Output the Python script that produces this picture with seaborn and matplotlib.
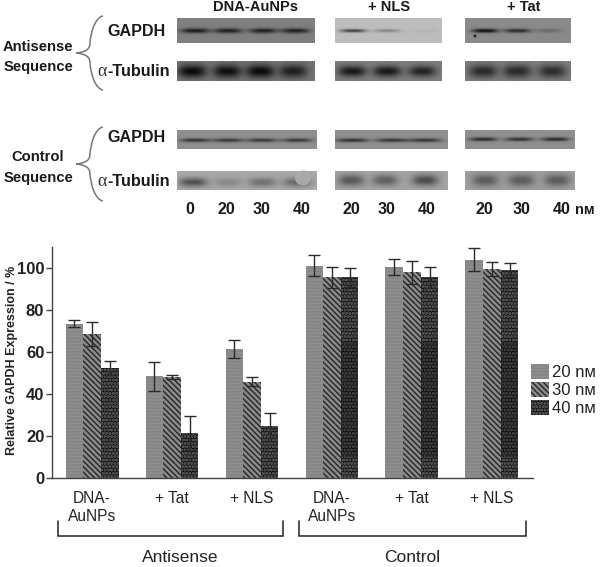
import numpy as np
import pandas as pd
import matplotlib
matplotlib.use("Agg")
import matplotlib.pyplot as plt
from matplotlib.path import Path
from matplotlib.patches import PathPatch, Patch, Ellipse
import seaborn as sns

# ---------- data ----------
groups = ["A-DNA", "A-Tat", "A-NLS", "C-DNA", "C-Tat", "C-NLS"]
group_labels = ["DNA-\nAuNPs", "+ Tat", "+ NLS", "DNA-\nAuNPs", "+ Tat", "+ NLS"]
conc = ["20 nм", "30 nм", "40 nм"]
v20 = [73.5, 48.5, 61.5, 101, 100.5, 104]
v30 = [68.5, 48, 46, 95.5, 98, 99.5]
v40 = [52.5, 21.5, 25, 95.5, 95.5, 99]
e20 = [1.6, 6.8, 4.4, 5, 4, 5.3]
e30 = [5.8, 0.9, 2, 5, 5.5, 3.3]
e40 = [3.5, 8, 6, 4.3, 5, 3.5]
yticks = [0, 20, 40, 60, 80, 100]
# darker stretch visible inside the control 40 nM bars
dark_bottom = [10, 10, 10]
dark_top = [65, 65, 65]

# blot panels: centres of the lanes and darkness of each band
dna_r1 = [195, 228, 263, 295]; nls_r1 = [353, 387, 425]; tat_r1 = [485, 517, 548]
dna_r2 = [192, 227, 260, 293]; nls_r2 = [352, 387, 422]; tat_r2 = [483, 517, 552]
dna_r3 = [195, 228, 262, 297]; nls_r3 = [352, 392, 425]; tat_r3 = [483, 519, 555]
dna_r4 = [193, 228, 262, 297]; nls_r4 = [351, 385, 425]; tat_r4 = [485, 521, 557]
d_dna_r1 = [.40, .38, .38, .38]; d_nls_r1 = [.50, .22, .04]; d_tat_r1 = [.48, .38, .12]
d_dna_r2 = [.42, .40, .42, .34]; d_nls_r2 = [.40, .40, .36]; d_tat_r2 = [.34, .34, .32]
d_dna_r3 = [.36, .34, .34, .34]; d_nls_r3 = [.38, .36, .36]; d_tat_r3 = [.40, .38, .40]
d_dna_r4 = [.34, .12, .22, .25]; d_nls_r4 = [.30, .26, .34]; d_tat_r4 = [.26, .26, .26]

lane_labels_dna = ["0", "20", "30", "40"]
lane_labels_nm = ["20", "30", "40"]

# ---------- theme ----------
sns.set_theme(style="white")
plt.rcParams["font.family"] = ["Liberation Sans", "DejaVu Sans"]
plt.rcParams["hatch.linewidth"] = 1.0

fig = plt.figure(figsize=(6.0, 5.67), dpi=100)
W, H = 600, 567
ax = fig.add_axes([52 / W, (H - 478.3) / H, 481 / W, 231.3 / H])

df = pd.DataFrame({
    "group": groups * 3,
    "conc": np.repeat(conc, 6),
    "value": v20 + v30 + v40,
})
sns.barplot(data=df, x="group", y="value", hue="conc", order=groups, hue_order=conc,
            width=0.6625, gap=0, errorbar=None, legend=False, ax=ax, saturation=1,
            palette=["#8e8e8e", "#8e8e8e", "#242424"])

styles = [
    dict(fc="#8e8e8e", ec="#848484", hatch="-----"),
    dict(fc="#8a8a8a", ec="#262626", hatch="\\\\\\\\\\\\"),
    dict(fc="#111111", ec="#4a4a4a", hatch="ooooo"),
]
bars40 = list(ax.containers[2])
for cont, st, errs in zip(ax.containers, styles, [e20, e30, e40]):
    xs, ys = [], []
    for bar in cont:
        bar.set_facecolor(st["fc"])
        bar.set_edgecolor(st["ec"])
        bar.set_hatch(st["hatch"])
        bar.set_linewidth(0)
        xs.append(bar.get_x() + bar.get_width() / 2)
        ys.append(bar.get_height())
    ax.errorbar(xs, ys, yerr=errs, fmt="none", ecolor="#2a2a2a", elinewidth=1.0,
                capsize=4, capthick=1.0, zorder=5)

ax.bar([b.get_x() + b.get_width() / 2 for b in bars40[3:]],
       np.array(dark_top) - np.array(dark_bottom), bottom=dark_bottom,
       width=bars40[0].get_width(), color="#111111", alpha=0.35, linewidth=0, zorder=4)

ax.set_xlim(-0.5, 5.5125)
ax.set_ylim(0, 110)
ax.set_yticks(yticks)
ax.set_yticklabels([str(t) for t in yticks], fontsize=12, fontweight="bold", color="#222222")
ax.set_xticks(range(6))
ax.set_xticklabels(group_labels, fontsize=11.2, color="#222222", linespacing=1.3)
ax.tick_params(axis="y", length=4, width=1, color="#444444", pad=1.5, left=True)
ax.tick_params(axis="x", length=0, pad=9)
ax.set_xlabel("")
ax.set_ylabel("Relative GAPDH Expression / %", fontsize=9.0, fontweight="bold", color="#222222")
ax.yaxis.set_label_coords(-34 / 481, 0.511)
for s in ["top", "right"]:
    ax.spines[s].set_visible(False)
for s in ["left", "bottom"]:
    ax.spines[s].set_color("#444444")
    ax.spines[s].set_linewidth(1.0)

# ---------- overlay in pixel coordinates ----------
ov = fig.add_axes([0, 0, 1, 1], zorder=10)
ov.patch.set_alpha(0)
ov.axis("off")


def blot(x0, x1, y0, y1, bg, centres, dark, hw, hh, yc):
    xx, yy = np.meshgrid(np.arange(x0, x1, 0.5), np.arange(y0, y1, 0.5))
    img = np.full(xx.shape, bg, dtype=float)
    for c, d in zip(centres, dark):
        img -= d * np.exp(-np.abs((xx - c) / hw) ** 3 - ((yy - yc) / hh) ** 2)
    ov.imshow(np.clip(img, 0, 1), extent=(x0, x1, y1, y0), cmap="gray", vmin=0, vmax=1,
              aspect="auto", interpolation="bilinear")


blot(177, 315, 18, 43, .50, dna_r1, d_dna_r1, 14, 2.4, 30.5)
blot(335, 442, 18, 43, .74, nls_r1, d_nls_r1, 13, 1.6, 30.5)
blot(465, 571, 18, 43, .54, tat_r1, d_tat_r1, 13, 2.0, 30.5)
blot(177, 315, 61, 81, .46, dna_r2, d_dna_r2, 14, 6.5, 71)
blot(335, 442, 61, 81, .50, nls_r2, d_nls_r2, 14, 5.5, 71)
blot(465, 571, 61, 81, .50, tat_r2, d_tat_r2, 14, 6.5, 71)
blot(177, 317, 130, 149, .56, dna_r3, d_dna_r3, 15, 1.9, 140)
blot(335, 448, 130, 149, .56, nls_r3, d_nls_r3, 16, 1.9, 140)
blot(465, 575, 130, 149, .56, tat_r3, d_tat_r3, 14, 1.9, 139)
blot(177, 317, 171, 190, .66, dna_r4, d_dna_r4, 14, 4.5, 182)
blot(335, 448, 171, 190, .64, nls_r4, d_nls_r4, 13, 5.5, 180)
blot(465, 575, 171, 190, .62, tat_r4, d_tat_r4, 13, 6.0, 180)
ov.add_patch(Ellipse((303, 178), 16, 15, fc="#a8a8a8", ec="none"))
ov.add_patch(Ellipse((475, 36), 3, 3, fc="#222222", ec="none"))

ov.set_xlim(0, W)
ov.set_ylim(H, 0)


def brace(xl, xt, xm, ytop, ymid, ybot):
    verts = [(xt, ytop), (xl + 6, ytop + 1), (xl + 1, ytop + 14), (xl, ymid - 10),
             (xl, ymid - 4), (xl - 4, ymid - 1), (xm, ymid),
             (xl - 4, ymid + 1), (xl, ymid + 4), (xl, ymid + 10),
             (xl + 1, ybot - 14), (xl + 6, ybot - 1), (xt, ybot)]
    codes = [Path.MOVETO] + [Path.CURVE4] * 12
    ov.add_patch(PathPatch(Path(verts, codes), fc="none", ec="#777777", lw=1.1))


brace(90, 103, 76, 16, 53, 90)
brace(90, 103, 76, 127, 164, 201)


def bold(x, y, s, size=9.5, ha="center"):
    ov.text(x, y, s, fontsize=size, fontweight="bold", ha=ha, va="center", color="#1a1a1a")


bold(255, 7, "DNA-AuNPs", 10.5)
bold(389, 7, "+ NLS", 10.5)
bold(524, 7, "+ Tat", 10.5)
bold(38, 47, "Antisense", 10.6)
bold(38, 67, "Sequence", 10.6)
bold(38, 157, "Control", 10.6)
bold(38, 178, "Sequence", 10.6)
bold(137, 32, "GAPDH", 11.6)
bold(137, 138, "GAPDH", 11.6)
for yy in (71, 181):
    ov.text(97, yy, "α", fontsize=13, family="Liberation Serif", ha="left", va="center", color="#333333")
    bold(107, yy, "-Tubulin", 11.7, ha="left")
for x, s in zip([190, 226, 262, 302], lane_labels_dna):
    bold(x, 210, s, 11.5)
for x, s in zip([351, 387, 427], lane_labels_nm):
    bold(x, 210, s, 11.5)
for x, s in zip([484, 522, 562], lane_labels_nm):
    bold(x, 210, s, 11.5)
bold(585, 210, "nм", 10.5)

# group brackets
for x0, x1, label, xm in [(57.5, 283, "Antisense", 180), (299, 526, "Control", 412)]:
    ov.plot([x0, x0, x1, x1], [521, 536, 536, 521], color="#222222", lw=1.1,
            solid_joinstyle="miter")
    ov.text(xm, 557, label, fontsize=12.5, ha="center", va="center", color="#222222")

# legend
handles = [Patch(facecolor=s["fc"], edgecolor=s["ec"], hatch=s["hatch"], linewidth=0) for s in styles]
ov.legend(handles, conc, loc="upper left", bbox_to_anchor=(531 / W, 1 - 364 / H), frameon=False,
          fontsize=12, labelspacing=0.12, handlelength=1.05, handleheight=1.0,
          handletextpad=0.2, borderpad=0, borderaxespad=0, labelcolor="#222222")

fig.savefig("out.png", dpi=100, facecolor="white")
